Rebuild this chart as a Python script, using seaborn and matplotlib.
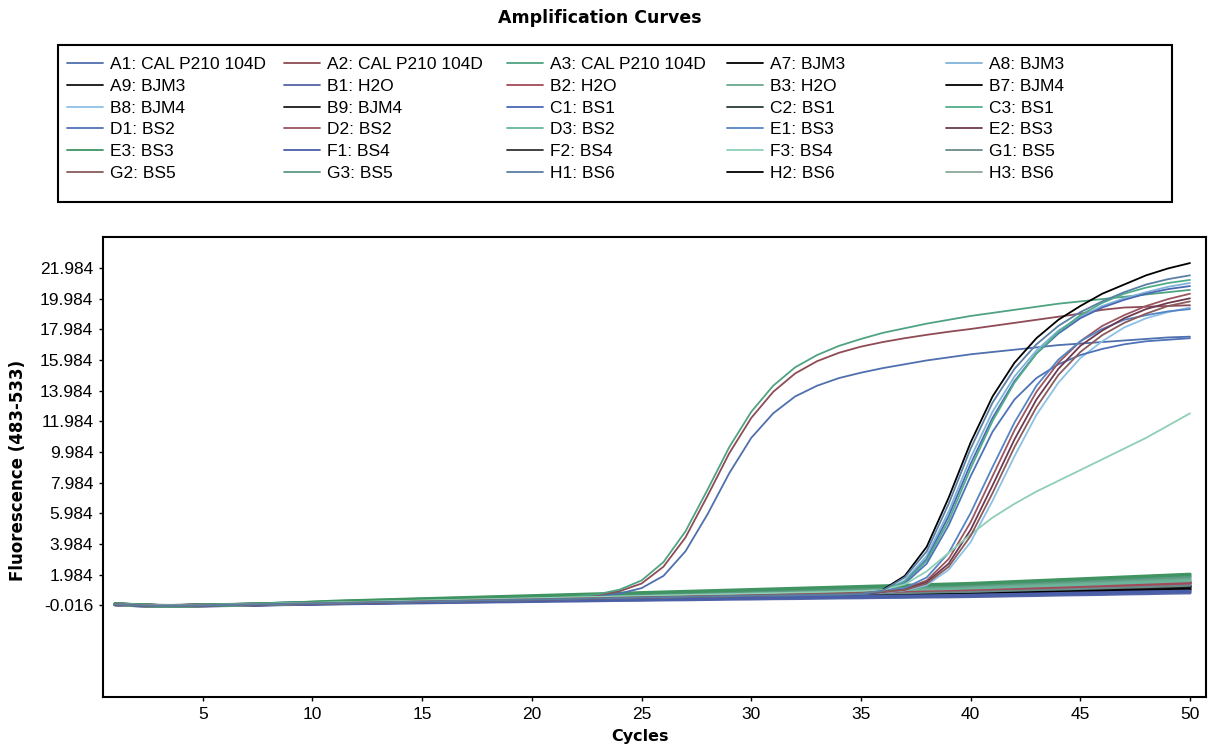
import matplotlib
matplotlib.use("Agg")
import matplotlib.pyplot as plt
import seaborn as sns
import pandas as pd
from matplotlib.patches import Rectangle
from matplotlib.lines import Line2D

# ---------------- data ----------------
cycles = list(range(1, 51))

a1 = [0.05,-0.01,-0.05,-0.04,-0.02,0.01,0.03,0.06,0.09,0.11,
      0.14,0.17,0.20,0.22,0.25,0.28,0.31,0.33,0.36,0.39,
      0.42,0.46,0.55,0.75,1.10,1.90,3.50,5.90,8.60,10.90,
      12.50,13.60,14.30,14.80,15.15,15.45,15.70,15.95,16.15,16.35,
      16.50,16.65,16.80,16.95,17.05,17.15,17.25,17.35,17.45,17.50]
a2 = [0.04,-0.02,-0.05,-0.05,-0.03,0.00,0.03,0.06,0.09,0.12,
      0.15,0.18,0.21,0.24,0.27,0.30,0.33,0.36,0.39,0.42,
      0.46,0.52,0.65,0.90,1.40,2.50,4.40,7.10,9.90,12.20,
      13.90,15.10,15.90,16.45,16.85,17.15,17.40,17.62,17.82,18.00,
      18.20,18.40,18.60,18.80,19.00,19.25,19.40,19.45,19.50,19.55]
a3 = [0.06,0.00,-0.04,-0.04,-0.02,0.01,0.04,0.07,0.10,0.13,
      0.16,0.19,0.22,0.25,0.28,0.31,0.34,0.37,0.40,0.43,
      0.47,0.55,0.70,1.00,1.60,2.80,4.80,7.50,10.30,12.60,
      14.30,15.50,16.30,16.90,17.35,17.75,18.05,18.35,18.60,18.85,
      19.05,19.25,19.45,19.65,19.80,19.95,20.10,20.25,20.40,20.55]
a7 = [0.05,-0.01,-0.05,-0.04,-0.02,0.01,0.03,0.06,0.09,0.12,
      0.14,0.17,0.19,0.22,0.24,0.27,0.29,0.32,0.34,0.37,
      0.39,0.42,0.44,0.47,0.49,0.52,0.54,0.57,0.59,0.62,
      0.64,0.66,0.68,0.70,0.75,1.00,1.90,3.80,7.00,10.60,
      13.60,15.80,17.40,18.60,19.50,20.30,20.90,21.50,21.95,22.30]
a8 = [0.07,0.01,-0.03,-0.04,-0.01,0.02,0.04,0.07,0.10,0.13,
      0.15,0.18,0.21,0.23,0.26,0.29,0.31,0.34,0.36,0.39,
      0.41,0.44,0.47,0.49,0.52,0.54,0.57,0.59,0.62,0.64,
      0.66,0.68,0.70,0.71,0.74,0.90,1.60,3.20,6.10,9.60,
      12.60,14.90,16.60,17.90,18.80,19.50,20.00,20.40,20.75,21.00]
a9 = [0.06,0.00,-0.04,-0.05,-0.02,0.00,0.02,0.05,0.07,0.10,
      0.13,0.15,0.18,0.20,0.23,0.25,0.28,0.30,0.33,0.36,
      0.38,0.41,0.43,0.46,0.48,0.51,0.53,0.56,0.58,0.61,
      0.63,0.66,0.68,0.71,0.74,0.76,0.79,0.81,0.84,0.86,
      0.90,0.94,0.97,1.01,1.05,1.08,1.12,1.16,1.20,1.25]
b1 = [0.02,-0.04,-0.07,-0.06,-0.05,-0.03,-0.01,0.02,0.04,0.06,
      0.08,0.10,0.12,0.14,0.15,0.17,0.19,0.21,0.22,0.24,
      0.26,0.27,0.29,0.31,0.32,0.34,0.35,0.37,0.39,0.40,
      0.42,0.43,0.45,0.47,0.48,0.50,0.51,0.53,0.54,0.56,
      0.58,0.61,0.63,0.66,0.68,0.70,0.73,0.75,0.78,0.80]
b2 = [0.03,-0.02,-0.06,-0.05,-0.02,0.00,0.03,0.06,0.09,0.12,
      0.15,0.18,0.21,0.24,0.27,0.30,0.33,0.36,0.39,0.42,
      0.45,0.48,0.51,0.54,0.57,0.60,0.63,0.66,0.69,0.72,
      0.75,0.78,0.81,0.84,0.87,0.90,0.93,0.96,0.99,1.02,
      1.06,1.10,1.14,1.18,1.23,1.27,1.31,1.36,1.40,1.45]
b3 = [0.04,-0.03,-0.07,-0.06,-0.03,0.01,0.04,0.08,0.12,0.16,
      0.20,0.24,0.27,0.31,0.35,0.38,0.42,0.45,0.49,0.52,
      0.56,0.60,0.63,0.67,0.70,0.74,0.78,0.81,0.85,0.88,
      0.92,0.96,0.99,1.03,1.07,1.10,1.14,1.18,1.21,1.25,
      1.31,1.36,1.41,1.47,1.52,1.57,1.63,1.68,1.74,1.80]
b7 = [0.05,-0.01,-0.05,-0.04,-0.02,0.00,0.02,0.04,0.07,0.10,
      0.12,0.15,0.17,0.19,0.22,0.24,0.27,0.29,0.31,0.34,
      0.36,0.39,0.41,0.44,0.46,0.48,0.51,0.53,0.56,0.58,
      0.60,0.63,0.65,0.68,0.70,0.73,0.75,0.77,0.80,0.82,
      0.86,0.89,0.93,0.97,1.00,1.04,1.08,1.11,1.15,1.20]
b8 = [0.05,-0.01,-0.05,-0.05,-0.03,0.00,0.02,0.05,0.08,0.10,
      0.13,0.15,0.18,0.20,0.23,0.25,0.28,0.30,0.33,0.35,
      0.38,0.40,0.43,0.45,0.48,0.50,0.53,0.55,0.58,0.60,
      0.63,0.66,0.69,0.72,0.76,0.82,0.95,1.30,2.30,4.10,
      6.80,9.70,12.40,14.50,16.10,17.20,18.10,18.70,19.10,19.40]
b9 = [0.04,-0.02,-0.06,-0.05,-0.03,-0.01,0.01,0.04,0.06,0.09,
      0.11,0.13,0.15,0.18,0.20,0.22,0.24,0.27,0.29,0.31,
      0.33,0.35,0.38,0.40,0.42,0.44,0.46,0.49,0.51,0.53,
      0.55,0.57,0.60,0.62,0.64,0.66,0.68,0.71,0.73,0.75,
      0.79,0.82,0.85,0.89,0.92,0.96,0.99,1.03,1.06,1.10]
c1 = [0.03,-0.03,-0.06,-0.06,-0.04,-0.01,0.01,0.04,0.07,0.09,
      0.12,0.14,0.17,0.19,0.22,0.24,0.27,0.29,0.32,0.34,
      0.37,0.39,0.42,0.44,0.47,0.49,0.52,0.54,0.57,0.59,
      0.61,0.63,0.65,0.67,0.70,0.85,1.50,3.00,5.80,9.20,
      12.20,14.60,16.40,17.70,18.70,19.40,19.90,20.30,20.60,20.80]
c2 = [0.05,-0.01,-0.04,-0.04,-0.02,0.01,0.03,0.06,0.09,0.12,
      0.14,0.17,0.20,0.23,0.26,0.29,0.32,0.35,0.38,0.41,
      0.44,0.46,0.49,0.52,0.55,0.58,0.61,0.64,0.66,0.69,
      0.72,0.75,0.78,0.81,0.84,0.86,0.89,0.92,0.95,0.98,
      1.02,1.06,1.10,1.14,1.18,1.22,1.26,1.31,1.35,1.40]
c3 = [0.06,0.00,-0.04,-0.04,-0.02,0.01,0.04,0.07,0.10,0.13,
      0.16,0.19,0.22,0.25,0.28,0.31,0.34,0.37,0.40,0.43,
      0.46,0.49,0.52,0.55,0.58,0.61,0.64,0.67,0.70,0.73,
      0.76,0.78,0.80,0.82,0.86,0.95,1.50,2.90,5.50,8.90,
      12.00,14.50,16.40,17.80,18.90,19.70,20.30,20.70,21.00,21.20]
d1 = [0.05,-0.01,-0.04,-0.04,-0.02,0.01,0.03,0.06,0.08,0.11,
      0.13,0.16,0.18,0.21,0.23,0.26,0.28,0.31,0.33,0.36,
      0.38,0.41,0.43,0.46,0.48,0.51,0.53,0.56,0.58,0.61,
      0.63,0.65,0.67,0.69,0.72,0.85,1.40,2.70,5.20,8.40,
      11.30,13.40,14.80,15.70,16.30,16.70,17.00,17.20,17.30,17.40]
d2 = [0.05,0.00,-0.04,-0.04,-0.02,0.01,0.03,0.06,0.09,0.12,
      0.15,0.17,0.20,0.23,0.26,0.28,0.31,0.34,0.37,0.39,
      0.42,0.45,0.48,0.50,0.53,0.56,0.59,0.61,0.64,0.67,
      0.70,0.72,0.74,0.76,0.80,0.88,1.05,1.60,3.00,5.40,
      8.40,11.40,13.90,15.80,17.20,18.20,18.90,19.50,19.95,20.30]
d3 = [0.05,-0.01,-0.05,-0.04,-0.02,0.01,0.03,0.07,0.10,0.14,
      0.17,0.21,0.24,0.27,0.31,0.34,0.37,0.40,0.44,0.47,
      0.50,0.53,0.57,0.60,0.63,0.66,0.70,0.73,0.76,0.79,
      0.82,0.86,0.89,0.92,0.95,0.99,1.02,1.05,1.08,1.12,
      1.16,1.21,1.26,1.30,1.35,1.40,1.45,1.50,1.55,1.60]
e1 = [0.04,-0.02,-0.05,-0.05,-0.03,0.00,0.02,0.05,0.07,0.10,
      0.12,0.15,0.17,0.20,0.22,0.25,0.27,0.30,0.32,0.35,
      0.37,0.40,0.42,0.45,0.47,0.50,0.52,0.55,0.57,0.60,
      0.62,0.64,0.66,0.70,0.76,0.88,1.10,1.80,3.40,6.00,
      9.00,11.90,14.30,16.00,17.20,18.00,18.60,18.90,19.15,19.30]
e2 = [0.03,-0.03,-0.07,-0.06,-0.04,-0.01,0.01,0.04,0.06,0.09,
      0.11,0.14,0.16,0.19,0.21,0.24,0.26,0.29,0.31,0.34,
      0.36,0.39,0.41,0.44,0.46,0.49,0.51,0.54,0.56,0.59,
      0.62,0.65,0.68,0.71,0.76,0.85,1.00,1.50,2.70,4.90,
      7.80,10.80,13.40,15.40,16.90,17.90,18.70,19.30,19.70,20.00]
e3 = [0.07,0.00,-0.05,-0.05,-0.02,0.01,0.04,0.08,0.12,0.17,
      0.24,0.28,0.32,0.36,0.40,0.44,0.48,0.52,0.56,0.60,
      0.64,0.68,0.72,0.76,0.80,0.84,0.88,0.92,0.96,1.00,
      1.04,1.08,1.12,1.16,1.20,1.24,1.28,1.32,1.36,1.40,
      1.46,1.52,1.58,1.64,1.70,1.76,1.82,1.88,1.94,2.00]
f1 = [0.03,-0.03,-0.06,-0.06,-0.04,-0.02,0.00,0.03,0.05,0.08,
      0.10,0.12,0.14,0.16,0.18,0.20,0.21,0.23,0.25,0.27,
      0.29,0.31,0.32,0.34,0.36,0.38,0.40,0.41,0.43,0.45,
      0.47,0.49,0.50,0.52,0.54,0.56,0.58,0.59,0.61,0.63,
      0.66,0.68,0.71,0.74,0.77,0.79,0.82,0.85,0.87,0.90]
f2 = [0.06,0.00,-0.05,-0.06,-0.03,0.00,0.02,0.06,0.09,0.13,
      0.16,0.19,0.22,0.25,0.29,0.32,0.35,0.38,0.41,0.44,
      0.47,0.50,0.53,0.56,0.59,0.62,0.65,0.68,0.71,0.74,
      0.77,0.80,0.83,0.86,0.89,0.92,0.95,0.98,1.01,1.04,
      1.09,1.13,1.18,1.22,1.27,1.31,1.36,1.40,1.45,1.50]
f3 = [0.06,0.01,-0.03,-0.03,-0.01,0.02,0.05,0.08,0.11,0.14,
      0.17,0.20,0.23,0.26,0.29,0.32,0.35,0.38,0.41,0.44,
      0.47,0.50,0.53,0.56,0.59,0.62,0.65,0.68,0.71,0.74,
      0.77,0.80,0.83,0.86,0.90,0.98,1.35,2.20,3.40,4.60,
      5.70,6.60,7.40,8.10,8.80,9.50,10.20,10.90,11.70,12.50]
g1 = [0.04,-0.02,-0.06,-0.05,-0.03,0.00,0.02,0.05,0.08,0.11,
      0.13,0.16,0.18,0.21,0.24,0.26,0.29,0.32,0.34,0.37,
      0.40,0.42,0.45,0.48,0.50,0.53,0.56,0.58,0.61,0.64,
      0.66,0.69,0.72,0.74,0.77,0.80,0.82,0.85,0.88,0.90,
      0.94,0.98,1.02,1.05,1.09,1.13,1.17,1.21,1.25,1.30]
g2 = [0.06,0.00,-0.05,-0.05,-0.02,0.00,0.03,0.05,0.08,0.11,
      0.13,0.16,0.19,0.21,0.24,0.27,0.29,0.32,0.35,0.37,
      0.40,0.43,0.45,0.48,0.51,0.53,0.56,0.59,0.61,0.64,
      0.67,0.70,0.73,0.76,0.80,0.86,0.98,1.40,2.50,4.50,
      7.30,10.30,12.90,15.00,16.50,17.60,18.40,19.00,19.50,19.80]
g3 = [0.08,0.00,-0.06,-0.05,-0.02,0.02,0.05,0.08,0.13,0.17,
      0.21,0.26,0.29,0.33,0.37,0.40,0.45,0.48,0.52,0.55,
      0.60,0.63,0.67,0.71,0.74,0.78,0.83,0.86,0.90,0.93,
      0.97,1.01,1.05,1.09,1.12,1.17,1.20,1.25,1.28,1.32,
      1.38,1.43,1.49,1.54,1.60,1.65,1.71,1.77,1.83,1.89]
h1 = [0.04,-0.02,-0.06,-0.05,-0.03,0.00,0.02,0.05,0.08,0.10,
      0.13,0.15,0.18,0.20,0.23,0.25,0.28,0.30,0.33,0.35,
      0.38,0.40,0.43,0.45,0.48,0.50,0.53,0.55,0.58,0.60,
      0.62,0.64,0.66,0.68,0.72,0.95,1.80,3.50,6.60,10.20,
      13.20,15.40,17.00,18.20,19.10,19.80,20.40,20.90,21.25,21.50]
h2 = [0.05,-0.02,-0.05,-0.04,-0.02,0.00,0.02,0.05,0.07,0.10,
      0.12,0.14,0.16,0.18,0.20,0.22,0.24,0.26,0.28,0.30,
      0.32,0.34,0.36,0.38,0.40,0.42,0.44,0.46,0.48,0.50,
      0.52,0.54,0.56,0.58,0.60,0.62,0.64,0.66,0.68,0.70,
      0.73,0.76,0.79,0.82,0.85,0.88,0.91,0.94,0.97,1.00]
h3 = [0.07,0.01,-0.04,-0.05,-0.03,0.00,0.03,0.07,0.11,0.15,
      0.18,0.22,0.26,0.29,0.33,0.36,0.40,0.43,0.46,0.50,
      0.53,0.57,0.60,0.63,0.67,0.70,0.74,0.77,0.80,0.84,
      0.87,0.91,0.94,0.98,1.01,1.05,1.08,1.12,1.15,1.19,
      1.24,1.29,1.34,1.39,1.44,1.49,1.54,1.59,1.65,1.70]

sample_labels = [
    "A1: CAL P210 104D", "A2: CAL P210 104D", "A3: CAL P210 104D", "A7: BJM3", "A8: BJM3",
    "A9: BJM3", "B1: H2O", "B2: H2O", "B3: H2O", "B7: BJM4",
    "B8: BJM4", "B9: BJM4", "C1: BS1", "C2: BS1", "C3: BS1",
    "D1: BS2", "D2: BS2", "D3: BS2", "E1: BS3", "E2: BS3",
    "E3: BS3", "F1: BS4", "F2: BS4", "F3: BS4", "G1: BS5",
    "G2: BS5", "G3: BS5", "H1: BS6", "H2: BS6", "H3: BS6",
]
series_values = [a1, a2, a3, a7, a8, a9, b1, b2, b3, b7, b8, b9, c1, c2, c3,
                 d1, d2, d3, e1, e2, e3, f1, f2, f3, g1, g2, g3, h1, h2, h3]

y_tick_values = [-0.016, 1.984, 3.984, 5.984, 7.984, 9.984, 11.984,
                 13.984, 15.984, 17.984, 19.984, 21.984]
y_tick_labels = ["-0.016", "1.984", "3.984", "5.984", "7.984", "9.984", "11.984",
                 "13.984", "15.984", "17.984", "19.984", "21.984"]
x_tick_values = [5, 10, 15, 20, 25, 30, 35, 40, 45, 50]

# ---------------- style ----------------
colors = ["#4f6fae", "#8e4b55", "#4fa382", "#000000", "#7fb3d9",
          "#111111", "#5566a8", "#a34a5a", "#6aa88a", "#000000",
          "#8cc0e6", "#1a1a1a", "#4a68b5", "#2b3b35", "#4fae8a",
          "#4e72b8", "#9a5560", "#6ab59c", "#5685c4", "#6e3a50",
          "#3f9462", "#4a5fa8", "#333333", "#8fcfb5", "#6a8a8a",
          "#8a5a5a", "#5a9a85", "#5a7fa5", "#000000", "#8aa898"]
palette = dict(zip(sample_labels, colors))
# flat (non-amplifying) wells; drawn dark ones first so coloured ones show on top
flat_order = ["A9: BJM3", "B7: BJM4", "B9: BJM4", "H2: BS6", "F2: BS4", "C2: BS1",
              "B1: H2O", "F1: BS4", "G1: BS5", "B2: H2O", "H3: BS6", "D3: BS2",
              "B3: H2O", "G3: BS5", "E3: BS3"]

for v in series_values:
    assert len(v) == len(cycles)

rows = []
for lab, vals in zip(sample_labels, series_values):
    for c, v in zip(cycles, vals):
        rows.append((lab, c, v))
df = pd.DataFrame(rows, columns=["sample", "cycle", "fluor"])

sns.set_theme(style="white")
plt.rcParams["font.family"] = ["Liberation Sans", "DejaVu Sans"]
plt.rcParams["text.color"] = "black"
plt.rcParams["axes.labelcolor"] = "black"

W, H = 1220, 748
fig = plt.figure(figsize=(W / 100, H / 100), dpi=100)
ax = fig.add_axes([103 / W, 1 - 697 / H, (1206 - 103) / W, (697 - 237) / H])

flat_df = df[df["sample"].isin(flat_order)]
amp_df = df[~df["sample"].isin(flat_order)]
sns.lineplot(data=flat_df, x="cycle", y="fluor", hue="sample", palette=palette,
             hue_order=flat_order, estimator=None, legend=False,
             linewidth=2.4, ax=ax)
sns.lineplot(data=amp_df, x="cycle", y="fluor", hue="sample", palette=palette,
             hue_order=[s for s in sample_labels if s not in flat_order],
             estimator=None, legend=False, linewidth=1.3, ax=ax)

ax.set_xlim(0.45, 50.73)
ax.set_ylim(-6.0, 24.0)
ax.set_xticks(x_tick_values)
ax.set_xticklabels([str(x) for x in x_tick_values])
ax.set_yticks(y_tick_values)
ax.set_yticklabels(y_tick_labels)
ax.set_xlabel("")
ax.set_ylabel("")
ax.tick_params(axis="both", which="both", bottom=True, left=True, direction="out",
               length=3, width=1, color="black", labelsize=12.5, pad=4,
               labelcolor="black")
for sp in ax.spines.values():
    sp.set_visible(True)
    sp.set_color("black")
    sp.set_linewidth(1.5)
ax.set_facecolor("white")
ax.grid(False)

fig.text(600 / W, 1 - 18 / H, "Amplification Curves", ha="center", va="center",
         fontsize=12.5, fontweight="heavy", family=["DejaVu Sans"], color="black")
fig.text(640 / W, 1 - 737 / H, "Cycles", ha="center", va="center",
         fontsize=11.5, fontweight="bold", family=["DejaVu Sans"], color="black")
fig.text(18 / W, 1 - 470 / H, "Fluorescence (483-533)", ha="center", va="center",
         rotation=90, fontsize=12, fontweight="bold", family=["DejaVu Sans"],
         color="black")

# legend: 5 columns, row-major order as in the instrument software
col_x = [67, 284, 507, 727, 946]
for ci, x0 in enumerate(col_x):
    labs = [sample_labels[r * 5 + ci] for r in range(6)]
    hands = [Line2D([], [], color=palette[l], linewidth=1.3) for l in labs]
    fig.legend(hands, labs, loc="upper left", bbox_to_anchor=(x0 / W, 1 - 57 / H),
               bbox_transform=fig.transFigure, frameon=False, borderaxespad=0,
               borderpad=0, handlelength=2.1, handletextpad=0.35,
               labelspacing=0.38, fontsize=12.5, labelcolor="black")
fig.add_artist(Rectangle((58 / W, 1 - 202 / H), (1172 - 58) / W, (202 - 45) / H,
                         transform=fig.transFigure, fill=False, edgecolor="black",
                         linewidth=1.5))

fig.savefig("out.png", dpi=100, facecolor="white")
